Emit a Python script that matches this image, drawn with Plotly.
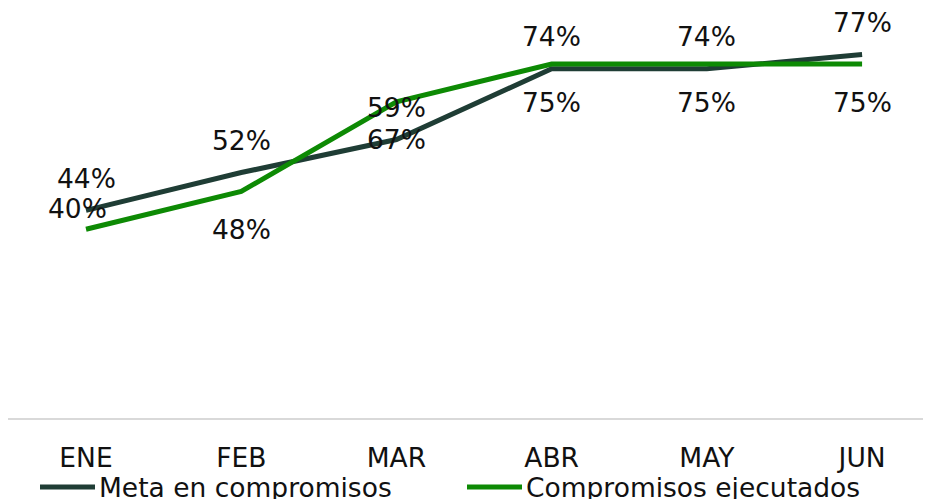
import plotly.graph_objects as go

months = ["ENE", "FEB", "MAR", "ABR", "MAY", "JUN"]
meta = [44, 52, 59, 74, 74, 77]
ejecutados = [40, 48, 67, 75, 75, 75]
meta_labels = ["44%", "52%", "59%", "74%", "74%", "77%"]
ejec_labels = ["40%", "48%", "67%", "75%", "75%", "75%"]
series_names = ["Meta en compromisos", "Compromisos ejecutados"]

DARK = "#1f3d35"
GREEN = "#0d8a04"
FONT = "DejaVu Sans, Verdana, sans-serif"
TXT = "#111111"
FS = 26.5

# The page body has an 8px margin, so the figure is laid out in page coords minus 8.
OFF = 8
FIG_W, FIG_H = 931 - OFF, 499 - OFF
L, T, W, H = 8 - OFF, 10 - OFF, 923, 408

def px_x(p):
    return (p - OFF - L) / W

def px_y(p):
    return (T + H - (p - OFF)) / H

fig = go.Figure()
fig.add_trace(go.Scatter(x=months, y=meta, mode="lines", name=series_names[0],
                         line=dict(color=DARK, width=5)))
fig.add_trace(go.Scatter(x=months, y=ejecutados, mode="lines", name=series_names[1],
                         line=dict(color=GREEN, width=5)))

annotations = []
for i, (m, v, t) in enumerate(zip(months, meta, meta_labels)):
    annotations.append(dict(x=m, y=v, text=t, showarrow=False, yshift=32,
                            font=dict(size=FS, color=TXT, family=FONT)))
for i, (m, v, t) in enumerate(zip(months, ejecutados, ejec_labels)):
    if i == 0:
        ys, xs = 21, -9
    else:
        ys, xs = -38, 0
    annotations.append(dict(x=m, y=v, text=t, showarrow=False, yshift=ys, xshift=xs,
                            font=dict(size=FS, color=TXT, family=FONT)))

# legend (drawn as shapes + text to get the long line samples)
shapes = []
legend_items = [(series_names[0], DARK, 40, 95, 97), (series_names[1], GREEN, 467, 522, 524)]
for name, col, x0, x1, tx in legend_items:
    shapes.append(dict(type="line", xref="paper", yref="paper",
                       x0=px_x(x0), x1=px_x(x1), y0=px_y(487), y1=px_y(487),
                       line=dict(color=col, width=5)))
    annotations.append(dict(xref="paper", yref="paper", x=px_x(tx), y=px_y(487),
                            xanchor="left", yanchor="middle", text=name, showarrow=False,
                            font=dict(size=FS, color=TXT, family=FONT)))

fig.update_layout(
    width=FIG_W, height=FIG_H,
    margin=dict(l=L, r=FIG_W - L - W, t=T, b=FIG_H - T - H, pad=0, autoexpand=False),
    paper_bgcolor="white", plot_bgcolor="white",
    font=dict(family=FONT, size=FS, color=TXT),
    annotations=annotations,
    shapes=shapes,
    showlegend=False,
    xaxis=dict(range=[-0.5026, 5.444], showgrid=False, zeroline=False, automargin=False,
               showline=True, linecolor="#d9d9d9", linewidth=2,
               ticks="outside", ticklen=15, tickcolor="rgba(0,0,0,0)",
               tickfont=dict(size=FS, family=FONT, color=TXT)),
    yaxis=dict(range=[0, 86.44], visible=False, showgrid=False, zeroline=False, automargin=False),
)

fig.write_html("out.html")
